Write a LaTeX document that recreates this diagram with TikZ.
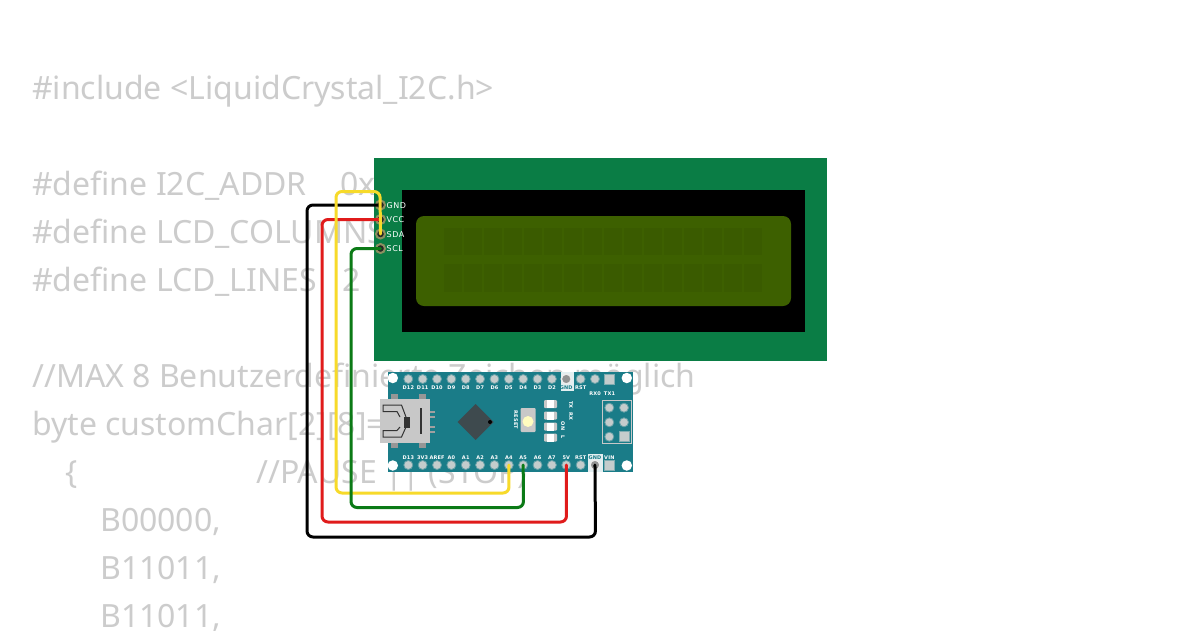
\documentclass[tikz,border=0pt]{standalone}
\usepackage{fontspec}
\setmainfont{Noto Sans}
\newfontfamily\pinfont[LetterSpace=3]{DejaVu Sans}
\newfontfamily\lcdfont[LetterSpace=6]{DejaVu Sans}
\definecolor{codegray}{HTML}{CCCCCC}
\definecolor{lcdgreen}{HTML}{0A7D45}
\definecolor{lcdscreen}{HTML}{3D6000}
\definecolor{lcdchar}{HTML}{3A5B00}
\definecolor{pcbteal}{HTML}{1A7C88}
\definecolor{padtan}{HTML}{8C8F60}
\definecolor{wireyellow}{HTML}{F7DA2A}
\definecolor{wirered}{HTML}{E01B1B}
\definecolor{wiregreen}{HTML}{0B7A16}
\definecolor{usbgray}{HTML}{C8C8C8}
\definecolor{pingray}{HTML}{C4CCCC}
\definecolor{chipgray}{HTML}{3E4A4E}
\tikzset{
  codeline/.style={anchor=base west,inner sep=0pt,text=codegray,font=\fontsize{32}{32}\selectfont},
  lcdlabel/.style={anchor=west,inner sep=0pt,text=white,font=\lcdfont\fontsize{8}{8}\selectfont},
  nanolabel/.style={anchor=center,inner sep=0pt,text=white,font=\pinfont\bfseries\fontsize{5}{6}\selectfont},
  sidelabel/.style={nanolabel,rotate=-90},
  lcdpin/.style={circle,draw=padtan,line width=2pt,fill=black!85,minimum size=9pt,inner sep=0pt},
  roundpin/.style={circle,fill=pingray,draw=pcbteal!55!pingray,line width=.8pt,minimum size=9pt,inner sep=0pt},
  squarepin/.style={rectangle,fill=pingray,draw=pcbteal!40!pingray,line width=.8pt,minimum size=10pt,inner sep=0pt},
  gndpin/.style={circle,fill=gray!85,draw=white!85!gray,line width=1.5pt,minimum size=10pt,inner sep=0pt},
  wirepath/.style={line width=3pt,rounded corners=6pt,line cap=round},
  hole/.style={circle,fill=white,minimum size=10.5pt,inner sep=0pt},
  ledpart/.style={rectangle,fill=usbgray,rounded corners=1pt,inner sep=0pt,minimum width=13pt,minimum height=8pt}
}
\begin{document}
\begin{tikzpicture}[x=1pt,y=-1pt]
\useasboundingbox (0,0) rectangle (1200,630);
\fill[white] (0,0) rectangle (1200,630);
% code text behind the parts
\node[codeline] (c1) at (32,99.5) {\#include <LiquidCrystal\_I2C.h>};
\node[codeline] (c2) at (32,195.5) {\#define I2C\_ADDR};
\node[codeline] (c2b) at (340,195.5) {0x};
\node[codeline] (c3) at (32,243.5) {\#define LCD\_COLUMNS};
\node[codeline] (c4) at (32,291.5) {\#define LCD\_LINES};
\node[codeline] (c4b) at (342,291.5) {2};
\node[codeline] (c5) at (32,387.5) {//MAX 8 Benutzerdefinierte Zeichen möglich};
\node[codeline] (c6) at (32,435.5) {byte customChar[2][8]=};
\node[codeline] (c7) at (65,483.5) {\{};
\node[codeline] (c7b) at (256,483.5) {//PAUSE || (STOP)};
\node[codeline] (c8) at (100,531.5) {B00000,};
\node[codeline] (c9) at (100,579.5) {B11011,};
\node[codeline] (c10) at (100,627.5) {B11011,};
% LCD
\fill[lcdgreen] (374,158) rectangle (827,361);
\fill[black] (402,190) rectangle (805,332);
\fill[lcdscreen,rounded corners=8pt] (416,216) rectangle (791,306);
\foreach \c in {0,...,15}{
  \fill[lcdchar] ({444+20*\c},228) rectangle +(18,27);
  \fill[lcdchar] ({444+20*\c},264) rectangle +(18,28);
}
\foreach \n/\y/\t in {lgnd/205/GND,lvcc/219.5/VCC,lsda/234/SDA,lscl/248.5/SCL}{
  \node[lcdpin] (\n) at (380.5,\y) {};
  \node[lcdlabel] (\n t) at (386.5,\y+0.5) {\t};
}
% Nano
\fill[pcbteal] (387.5,372) rectangle (632.7,472);
\foreach \n/\x/\y in {h1/392.8/378,h2/626.8/378,h3/392.8/465.5,h4/626.8/465.5}{
  \node[hole] (\n) at (\x,\y) {};
}
\fill[white!88!pcbteal] (560.5,372) rectangle (574,391);
\fill[white!88!pcbteal] (588,454) rectangle (603,472);
\foreach \i/\t in {0/D12,1/D11,2/D10,3/D9,4/D8,5/D7,6/D6,7/D5,8/D4,9/D3,10/D2,12/RST}{
  \node[roundpin] (t\i) at ({408.3+14.36*\i},379) {};
  \node[nanolabel] (tl\i) at ({408.3+14.36*\i},387.5) {\t};
}
\node[roundpin] (t13) at ({408.3+14.36*13},379) {};
\node[gndpin] (t11) at ({408.3+14.36*11},379) {};
\node[nanolabel,text=pcbteal] (tl11) at ({408.3+14.36*11},387.5) {GND};
\node[squarepin] (t14) at ({408.3+14.36*14},379) {};
\node[nanolabel] (rx0) at (595,393.5) {RX0};
\node[nanolabel] (tx1) at (609.5,393.5) {TX1};
\foreach \i/\t in {0/D13,1/3V3,2/AREF,3/A0,4/A1,5/A2,6/A3,7/A4,8/A5,9/A6,10/A7,11/5V,12/RST}{
  \node[roundpin] (b\i) at ({408.3+14.36*\i},465) {};
  \node[nanolabel] (bl\i) at ({408.3+14.36*\i},457.7) {\t};
}
\node[gndpin] (b13) at ({408.3+14.36*13},465) {};
\node[nanolabel,text=pcbteal] (bl13) at ({408.3+14.36*13},457.7) {GND};
\node[squarepin] (b14) at ({408.3+14.36*14},465) {};
\node[nanolabel] (bl14) at ({408.3+14.36*14},457.7) {VIN};
% USB
\fill[usbgray!75!black] (391,394) rectangle (398,400);
\fill[usbgray!75!black] (419,394) rectangle (426,400);
\fill[usbgray!75!black] (391,442) rectangle (398,448);
\fill[usbgray!75!black] (419,442) rectangle (426,448);
\fill[usbgray] (379.5,399) rectangle (430,443);
\foreach \y in {411,416,426,431}{\fill[usbgray!80!black] (430,\y) rectangle (435,\y+2);}
\draw[black!80,line width=1pt] (406,417) -- (401.5,405) -- (383,405) -- (383,411.5) -- (397,411.5) -- (400,417);
\draw[black!80,line width=1pt] (406,427) -- (401.5,437) -- (383,437) -- (383,430.5) -- (397,430.5) -- (400,427);
\fill[black!80] (403.5,416.5) rectangle (409.5,428);
\fill[black!80] (420,408) rectangle (421.5,434);
% MCU
\fill[chipgray] (475.7,404) -- (493.7,422) -- (475.7,440) -- (457.7,422) -- cycle;
\fill[black] (490,422) circle (2pt);
% reset button
\fill[usbgray,rounded corners=1pt] (520.7,408) rectangle (535.7,432);
\fill[yellow!25!white] (528,421.5) circle (5.5pt);
\node[sidelabel] (reset) at (516,420) {RESET};
% LEDs
\foreach \n/\y in {l1/404,l2/415.5,l3/426.5,l4/437.5}{
  \node[ledpart] (\n) at (550.5,\y) {};
  \fill[white] (547,\y-4) rectangle (554,\y+4);
}
\node[sidelabel] (txl) at (571,405) {TX};
\node[sidelabel] (rxl) at (571,416.5) {RX};
\node[sidelabel] (onl) at (563,426) {ON};
\node[sidelabel] (ll) at (563,437) {L};
% ICSP
\draw[usbgray,line width=1pt] (602.5,400) rectangle (631.5,443.5);
\foreach \n/\x/\y in {i1/609.3/407.7,i2/624/407.7,i3/609.3/422.3,i4/624/422.3,i5/609.3/436.7}{
  \node[roundpin] (\n) at (\x,\y) {};
}
\node[squarepin] (i6) at (624,436.7) {};
% wires
\coordinate (wb1) at (307,205);
\coordinate (wb2) at (307,537);
\coordinate (wb3) at (595.5,537);
\coordinate (wr1) at (322,219.5);
\coordinate (wr2) at (322,522);
\coordinate (wr3) at (566.5,522);
\coordinate (wy0) at (380,191.5);
\coordinate (wy1) at (336,191.5);
\coordinate (wy2) at (336,493);
\coordinate (wy3) at (509,493);
\coordinate (wg1) at (351,248.5);
\coordinate (wg2) at (351,507.5);
\coordinate (wg3) at (523.5,507.5);
\draw[wirepath,black] (lgnd.center) -- (wb1) -- (wb2) -- (wb3) -- (b13.center);
\draw[wirepath,wirered] (lvcc.center) -- (wr1) -- (wr2) -- (wr3) -- (b11.center);
\draw[wirepath,wireyellow] (lsda.center) -- (wy0) -- (wy1) -- (wy2) -- (wy3) -- (b7.center);
\draw[wirepath,wiregreen] (lscl.center) -- (wg1) -- (wg2) -- (wg3) -- (b8.center);
\end{tikzpicture}
\end{document}
